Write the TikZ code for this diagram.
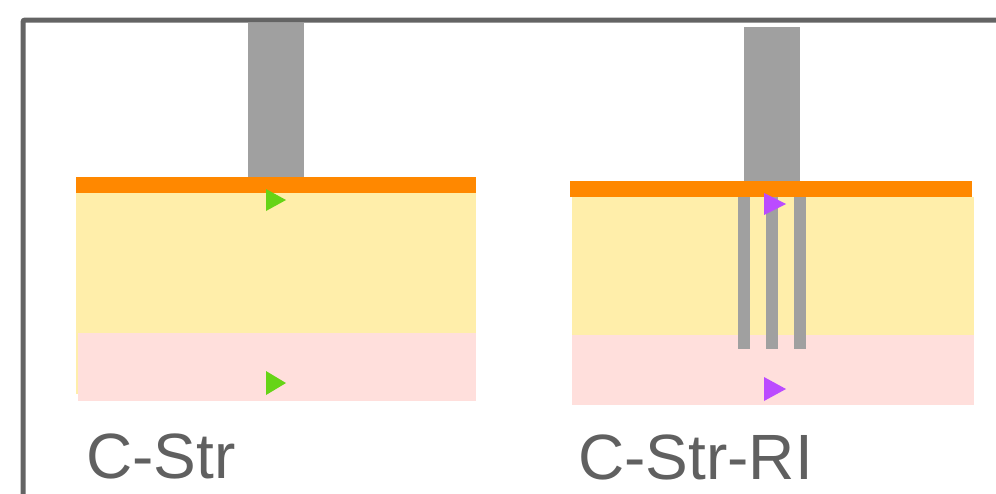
\documentclass[tikz,border=0pt]{standalone}
\usepackage{fontspec}
\setmainfont{Liberation Sans}
\definecolor{framegray}{HTML}{646464}
\definecolor{colgray}{HTML}{A0A0A0}
\definecolor{plateorange}{HTML}{FF8800}
\definecolor{soilyellow}{HTML}{FFEEAA}
\definecolor{soilpink}{HTML}{FFDFDC}
\definecolor{markgreen}{HTML}{66D416}
\definecolor{markpurple}{HTML}{BB4BFF}
\definecolor{labelgray}{HTML}{606060}
\tikzset{
  framestyle/.style={draw=framegray,line width=5pt,rounded corners=2pt},
  colfill/.style={fill=colgray},
  platefill/.style={fill=plateorange},
  yellowfill/.style={fill=soilyellow},
  pinkfill/.style={fill=soilpink},
  greenmark/.style={fill=markgreen},
  purplemark/.style={fill=markpurple},
  labeltext/.style={text=labelgray,font=\fontsize{64}{68}\selectfont,inner sep=0pt,anchor=base west}
}
\begin{document}
\begin{tikzpicture}[x=1pt,y=-1pt]
\useasboundingbox (0,0) rectangle (996,493);
% frame
\draw[framestyle] (23,500) -- (23,20) -- (1000,20);
% ---- left: C-Str
\fill[yellowfill] (76,193) rectangle (476,394);
\fill[pinkfill] (77.7,333.3) rectangle (476,400.7);
\fill[colfill] (248,22.5) rectangle (304,177);
\fill[platefill] (76,177) rectangle (476,193);
\fill[greenmark] (266,189) -- (286,200) -- (266,211) -- cycle;
\fill[greenmark] (266,371) -- (286,383) -- (266,395) -- cycle;
\node[labeltext] (lblA) at (86,478) {C-Str};
% ---- right: C-Str-RI
\fill[yellowfill] (572,197) rectangle (974,335);
\fill[pinkfill] (572,335) rectangle (974,405);
\fill[colfill] (744,27) rectangle (800,181);
\fill[colfill] (738,197) rectangle (750,349);
\fill[colfill] (766,197) rectangle (778,349);
\fill[colfill] (794,197) rectangle (806,349);
\fill[platefill] (570,181) rectangle (972,197);
\fill[purplemark] (764,193) -- (786,204) -- (764,215) -- cycle;
\fill[purplemark] (764,377) -- (786,389) -- (764,401) -- cycle;
\node[labeltext] (lblB) at (578,479) {C-Str-RI};
\end{tikzpicture}
\end{document}
